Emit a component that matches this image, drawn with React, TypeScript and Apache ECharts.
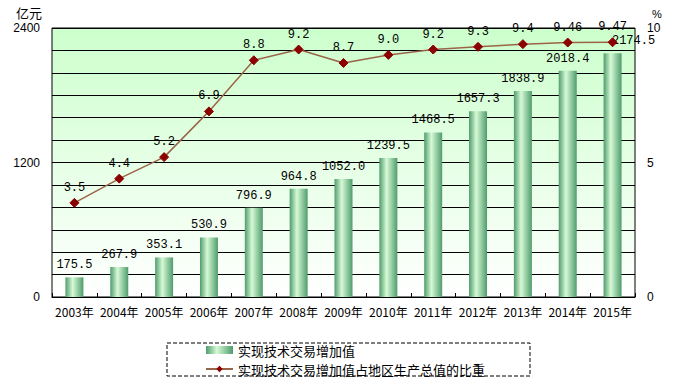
import React, { useEffect, useRef } from "react";
import * as echarts from "echarts";

const categories = ["2003年", "2004年", "2005年", "2006年", "2007年", "2008年", "2009年", "2010年", "2011年", "2012年", "2013年", "2014年", "2015年"];
const addedValue = [175.5, 267.9, 353.1, 530.9, 796.9, 964.8, 1052.0, 1239.5, 1468.5, 1657.3, 1838.9, 2018.4, 2174.5];
const addedValueLabels = ["175.5", "267.9", "353.1", "530.9", "796.9", "964.8", "1052.0", "1239.5", "1468.5", "1657.3", "1838.9", "2018.4", "2174.5"];
const shareOfGdp = [3.5, 4.4, 5.2, 6.9, 8.8, 9.2, 8.7, 9.0, 9.2, 9.3, 9.4, 9.46, 9.47];
const shareLabels = ["3.5", "4.4", "5.2", "6.9", "8.8", "9.2", "8.7", "9.0", "9.2", "9.3", "9.4", "9.46", "9.47"];
const seriesNames = ["实现技术交易增加值", "实现技术交易增加值占地区生产总值的比重"];

export default function App() {
  const ref = useRef<HTMLDivElement>(null);
  useEffect(() => {
    const chart = echarts.init(ref.current!, null, { renderer: "svg" });
    const barGrad = new echarts.graphic.LinearGradient(0, 0, 1, 0, [
      { offset: 0, color: "#4f9c6c" },
      { offset: 0.4, color: "#d6fad6" },
      { offset: 1, color: "#4f9c6c" },
    ]);
    const numFont = "'Liberation Mono', 'DejaVu Sans Mono', monospace";
    chart.setOption({
      animation: false,
      backgroundColor: "#ffffff",
      grid: {
        left: 52,
        right: 45,
        top: 28,
        bottom: 85,
        show: true,
        borderColor: "#000",
        borderWidth: 1,
        backgroundColor: new echarts.graphic.LinearGradient(0, 0, 0, 1, [
          { offset: 0, color: "#ccffcc" },
          { offset: 1, color: "#ffffff" },
        ]),
      },
      graphic: [
        { type: "text", left: 16, top: 6, style: { text: "亿元", font: "13px 'Noto Sans CJK SC'", fill: "#000" } },
        { type: "text", left: 652, top: 8, style: { text: "%", font: "11px 'Liberation Sans'", fill: "#000" } },
      ],
      legend: {
        orient: "vertical",
        left: 167,
        top: 343,
        padding: [0, 45, 0, 38],
        itemGap: 5,
        itemWidth: 27,
        itemHeight: 8,
        borderColor: "#000",
        borderWidth: 1,
        borderType: "dashed",
        borderRadius: 0,
        textStyle: { fontSize: 13, lineHeight: 14, fontFamily: "'Noto Sans CJK SC'", color: "#000" },
        data: [
          { name: seriesNames[0], icon: "rect" },
          { name: seriesNames[1] },
        ],
      },
      xAxis: {
        type: "category",
        data: categories,
        axisLine: { lineStyle: { color: "#000", width: 1 } },
        axisTick: { show: true, inside: true, length: 4, lineStyle: { color: "#000" } },
        axisLabel: { color: "#000", fontSize: 12, fontFamily: "'Noto Sans CJK SC'", margin: 8, interval: 0 },
      },
      yAxis: [
        {
          type: "value",
          min: 0,
          max: 2400,
          interval: 200,
          axisLine: { show: false },
          axisTick: { show: false },
          splitLine: { lineStyle: { color: "#000", width: 1 } },
          axisLabel: {
            color: "#000",
            fontSize: 12,
            fontFamily: "'Liberation Sans'",
            margin: 12,
            formatter: (v: number) => (v % 1200 === 0 ? String(v) : ""),
          },
        },
        {
          type: "value",
          min: 0,
          max: 10,
          interval: 5,
          axisLine: { show: false },
          axisTick: { show: false },
          splitLine: { show: false },
          axisLabel: { color: "#000", fontSize: 12, fontFamily: "'Liberation Sans'", margin: 12 },
        },
      ],
      series: [
        {
          name: seriesNames[0],
          type: "bar",
          yAxisIndex: 0,
          barWidth: 18,
          itemStyle: { color: barGrad },
          data: addedValue.map((v, i) => ({
            value: v,
            label: i === addedValue.length - 1 ? { offset: [21, 0] } : undefined,
          })),
          label: {
            show: true,
            position: "top",
            distance: 6,
            color: "#000",
            fontSize: 12,
            fontFamily: numFont,
            formatter: (p: any) => addedValueLabels[p.dataIndex],
          },
          z: 2,
        },
        {
          name: seriesNames[1],
          type: "line",
          yAxisIndex: 1,
          data: shareOfGdp,
          symbol: "diamond",
          symbolSize: 9,
          lineStyle: { color: "#9a6448", width: 1.5 },
          itemStyle: { color: "#8b0000", borderColor: "#8b0000" },
          label: {
            show: true,
            position: "top",
            distance: 4,
            color: "#000",
            fontSize: 12,
            fontFamily: numFont,
            formatter: (p: any) => shareLabels[p.dataIndex],
          },
          z: 3,
        },
      ],
    });
    return () => chart.dispose();
  }, []);
  return <div ref={ref} style={{ width: 680, height: 382, position: "absolute", left: 0, top: 0 }} />;
}
